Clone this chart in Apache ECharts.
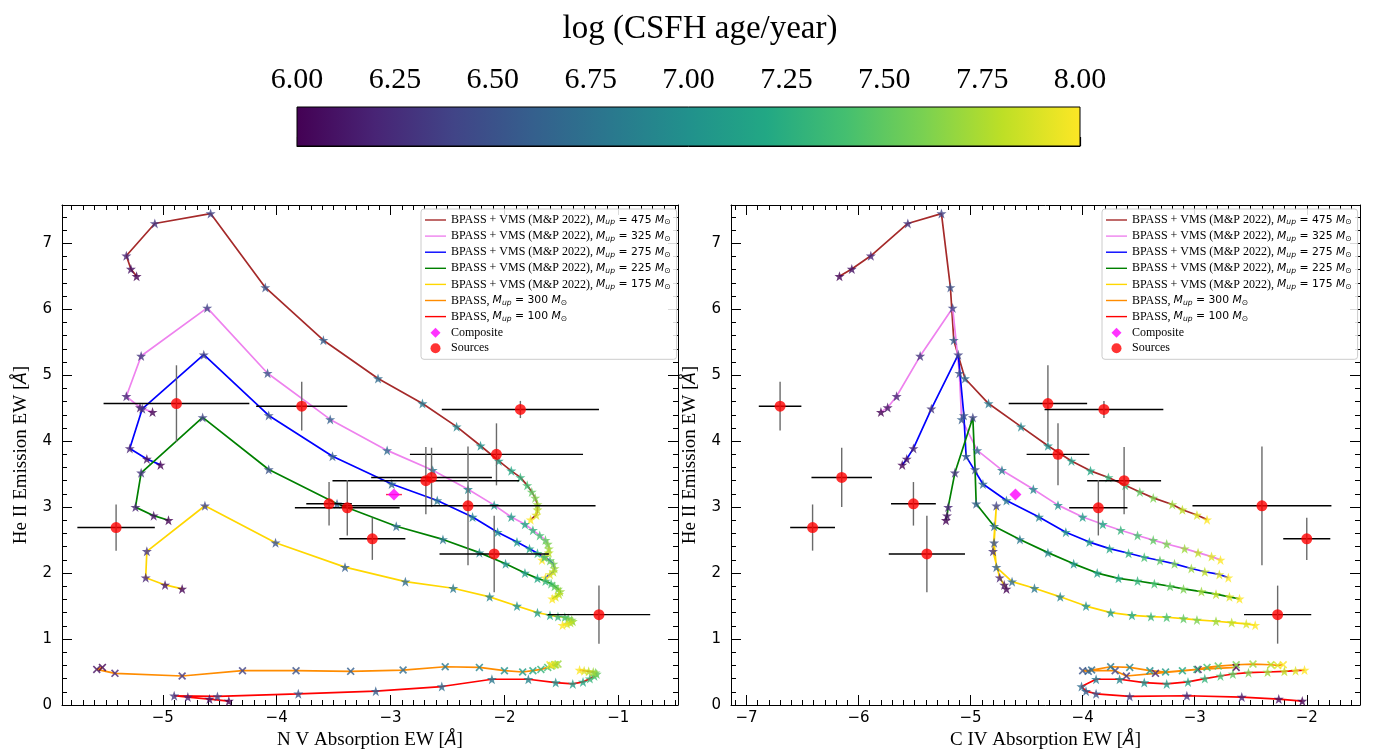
<!DOCTYPE html>
<html><head><meta charset="utf-8">
<script src="https://cdn.jsdelivr.net/npm/echarts@6/dist/echarts.min.js"></script>
<style>html,body{margin:0;padding:0;background:#fff}#c{width:1373px;height:749px}</style>
</head><body><div id="c"></div><script>
// ---------------- data ----------------
const ages = [6.0,6.1,6.2,6.3,6.4,6.5,6.6,6.7,6.8,6.9,7.0,7.1,7.2,7.3,7.4,7.5,7.6,7.7,7.8,7.9,8.0];

const vms475_heII = [6.50,6.61,6.81,7.30,7.45,6.33,5.53,4.95,4.57,4.22,3.93,3.70,3.55,3.45,3.33,3.23,3.14,3.04,2.96,2.88,2.81];
const vms475_nv   = [-5.23,-5.28,-5.32,-5.07,-4.58,-4.10,-3.59,-3.11,-2.72,-2.42,-2.21,-2.05,-1.94,-1.86,-1.80,-1.76,-1.73,-1.71,-1.71,-1.72,-1.77];
const vms475_civ  = [-6.17,-6.06,-5.89,-5.56,-5.26,-5.18,-5.15,-5.05,-4.84,-4.55,-4.31,-4.10,-3.93,-3.77,-3.62,-3.49,-3.37,-3.20,-3.11,-2.98,-2.89];

const vms325_heII = [4.44,4.51,4.68,5.29,6.02,5.03,4.33,3.86,3.56,3.27,3.03,2.85,2.74,2.65,2.57,2.50,2.44,2.37,2.31,2.25,2.20];
const vms325_nv   = [-5.09,-5.20,-5.32,-5.19,-4.61,-4.08,-3.53,-3.03,-2.63,-2.32,-2.09,-1.94,-1.82,-1.75,-1.69,-1.64,-1.62,-1.61,-1.61,-1.64,-1.67];
const vms325_civ  = [-5.80,-5.74,-5.66,-5.45,-5.16,-5.10,-5.08,-4.94,-4.72,-4.44,-4.22,-4.00,-3.82,-3.66,-3.51,-3.37,-3.25,-3.09,-2.97,-2.85,-2.77];

const vms275_heII = [3.64,3.73,3.89,4.49,5.31,4.39,3.77,3.35,3.10,2.85,2.62,2.47,2.37,2.30,2.24,2.19,2.14,2.07,2.02,1.98,1.93];
const vms275_nv   = [-5.02,-5.14,-5.29,-5.18,-4.64,-4.07,-3.51,-2.99,-2.59,-2.28,-2.06,-1.89,-1.78,-1.71,-1.65,-1.60,-1.57,-1.56,-1.57,-1.60,-1.64];
const vms275_civ  = [-5.61,-5.57,-5.51,-5.35,-5.11,-5.06,-5.04,-4.89,-4.68,-4.39,-4.15,-3.94,-3.76,-3.59,-3.45,-3.31,-3.18,-3.03,-2.91,-2.78,-2.70];

const vms225_heII = [2.80,2.87,3.00,3.52,4.36,3.57,3.05,2.71,2.51,2.31,2.14,2.00,1.92,1.88,1.84,1.80,1.76,1.72,1.68,1.64,1.61];
const vms225_nv   = [-4.95,-5.08,-5.24,-5.19,-4.65,-4.07,-3.47,-2.95,-2.54,-2.22,-1.99,-1.82,-1.71,-1.64,-1.59,-1.56,-1.53,-1.51,-1.52,-1.55,-1.58];
const vms225_civ  = [-5.22,-5.21,-5.20,-5.14,-4.98,-4.96,-4.95,-4.79,-4.56,-4.31,-4.08,-3.87,-3.68,-3.51,-3.36,-3.22,-3.10,-2.94,-2.81,-2.69,-2.60];

const vms175_heII = [1.76,1.82,1.93,2.33,3.02,2.46,2.09,1.87,1.77,1.64,1.50,1.40,1.36,1.34,1.33,1.31,1.29,1.27,1.25,1.23,1.21];
const vms175_nv   = [-4.83,-4.98,-5.15,-5.14,-4.63,-4.01,-3.40,-2.87,-2.45,-2.13,-1.89,-1.71,-1.60,-1.53,-1.47,-1.44,-1.41,-1.40,-1.42,-1.45,-1.49];
const vms175_civ  = [-4.68,-4.70,-4.74,-4.80,-4.77,-4.79,-4.77,-4.63,-4.43,-4.20,-3.97,-3.75,-3.56,-3.39,-3.25,-3.10,-2.98,-2.81,-2.67,-2.54,-2.46];

const bp300_heII = [0.57,0.54,0.48,0.44,0.52,0.52,0.51,0.53,0.58,0.57,0.52,0.50,0.52,0.54,0.57,0.59,0.61,0.62,0.61,0.60,0.61];
const bp300_nv   = [-5.53,-5.58,-5.42,-4.83,-4.30,-3.83,-3.35,-2.89,-2.52,-2.22,-2.00,-1.84,-1.75,-1.68,-1.62,-1.59,-1.56,-1.53,-1.55,-1.58,-1.60];
const bp300_civ  = [-2.63,-2.97,-3.35,-3.61,-3.71,-4.00,-3.95,-3.92,-3.75,-3.58,-3.40,-3.26,-3.11,-2.98,-2.89,-2.79,-2.63,-2.48,-2.32,-2.26,-2.21];

const bp100_heII = [0.06,0.09,0.12,0.14,0.13,0.17,0.21,0.28,0.39,0.39,0.34,0.32,0.35,0.40,0.44,0.47,0.49,0.50,0.51,0.52,0.53];
const bp100_nv   = [-4.42,-4.59,-4.78,-4.90,-4.52,-3.81,-3.13,-2.55,-2.11,-1.79,-1.55,-1.40,-1.31,-1.25,-1.21,-1.19,-1.20,-1.22,-1.26,-1.30,-1.34];
const bp100_civ  = [-2.04,-2.25,-2.58,-3.07,-3.58,-3.88,-3.97,-4.01,-3.88,-3.67,-3.45,-3.25,-3.06,-2.91,-2.77,-2.66,-2.52,-2.35,-2.20,-2.10,-2.02];

const src_heII     = [2.69,4.57,4.53,4.48,3.80,3.40,3.45,3.02,3.05,2.99,2.52,2.29,1.37];
const src_heII_err = [0.35,0.58,0.37,0.13,0.47,0.51,0.45,0.90,0.33,0.42,0.32,0.58,0.44];
const src_nv       = [-5.41,-4.88,-3.78,-1.86,-2.07,-2.69,-2.64,-2.32,-3.54,-3.38,-3.16,-2.09,-1.17];
const src_nv_err   = [0.34,0.64,0.40,0.69,0.76,0.82,0.53,1.12,0.20,0.46,0.29,0.48,0.45];
const src_civ      = [-6.41,-4.31,-6.70,-3.81,-4.22,-3.63,-6.15,-2.40,-5.51,-3.86,-2.00,-5.39,-2.26];
const src_civ_err  = [0.20,0.35,0.19,0.53,0.28,0.33,0.27,0.62,0.20,0.26,0.21,0.34,0.30];

const comp_heII = [3.19];
const comp_heII_err = [0.0];
const comp_nv = [-2.97];
const comp_nv_err = [0.07];
const comp_civ = [-4.60];
const comp_civ_err = [0.0];

const cbRange = [6, 8];

// ---------------- styling ----------------
const STAR = 'path://M50,0 L61.8,35.1 L98.8,35.1 L68.8,57 L80.3,92.7 L50,70.9 L19.7,92.7 L31.2,57 L1.2,35.1 L38.2,35.1 Z';
const CROSS = 'path://M0,1.5 L1.5,0 L5,3.5 L8.5,0 L10,1.5 L6.5,5 L10,8.5 L8.5,10 L5,6.5 L1.5,10 L0,8.5 L3.5,5 Z';
const LINEICON = 'path://M0,0 L30,0 L30,2 L0,2 Z';
const viridis = ['#440154','#482475','#414487','#355f8d','#2a788e','#21918c','#22a884','#44bf70','#7ad151','#bddf26','#fde725'];

const models = [
  {key:'vms475', pre:'BPASS + VMS (M&P 2022), ', mup:'475', color:'#a52a2a', sym:STAR, y:vms475_heII, nv:vms475_nv, civ:vms475_civ},
  {key:'vms325', pre:'BPASS + VMS (M&P 2022), ', mup:'325', color:'#ee82ee', sym:STAR, y:vms325_heII, nv:vms325_nv, civ:vms325_civ},
  {key:'vms275', pre:'BPASS + VMS (M&P 2022), ', mup:'275', color:'#0000ff', sym:STAR, y:vms275_heII, nv:vms275_nv, civ:vms275_civ},
  {key:'vms225', pre:'BPASS + VMS (M&P 2022), ', mup:'225', color:'#008000', sym:STAR, y:vms225_heII, nv:vms225_nv, civ:vms225_civ},
  {key:'vms175', pre:'BPASS + VMS (M&P 2022), ', mup:'175', color:'#ffd700', sym:STAR, y:vms175_heII, nv:vms175_nv, civ:vms175_civ},
  {key:'bp300',  pre:'BPASS, ', mup:'300', color:'#ff8c00', sym:CROSS, y:bp300_heII, nv:bp300_nv, civ:bp300_civ},
  {key:'bp100',  pre:'BPASS, ', mup:'100', color:'#ff0000', sym:STAR, y:bp100_heII, nv:bp100_nv, civ:bp100_civ}
];

const legendText = {};
models.forEach(m => {
  legendText[m.key] = '{t|' + m.pre + '}{mi|M}{sb|up}{mu| = ' + m.mup + ' }{mi|M}{sb|⊙}';
});
legendText['Composite'] = '{t|Composite}';
legendText['Sources'] = '{t|Sources}';

const legendData = models.map(m => ({name: m.key, icon: LINEICON}))
  .concat([{name:'Composite', icon:'path://M5,0 L10,5 L5,10 L0,5 Z'}, {name:'Sources', icon:'circle'}]);

function errRender(hcol, vcol) {
  return function (params, api) {
    const x = api.value(0), y = api.value(1), xe = api.value(2), ye = api.value(3);
    const ch = [];
    if (xe > 0) {
      const a = api.coord([x - xe, y]), b = api.coord([x + xe, y]);
      ch.push({type:'line', shape:{x1:a[0], y1:a[1], x2:b[0], y2:b[1]}, style:{stroke:hcol, lineWidth:1.4}});
    }
    if (ye > 0) {
      const a = api.coord([x, y + ye]), b = api.coord([x, y - ye]);
      ch.push({type:'line', shape:{x1:a[0], y1:a[1], x2:b[0], y2:b[1]}, style:{stroke:vcol, lineWidth:1.4}});
    }
    return {type:'group', children:ch};
  };
}

const series = [];
const scatterIdx = [];
[0, 1].forEach(p => {
  const xa = p * 2, ya = p * 2;
  models.forEach(m => {
    const xs = p === 0 ? m.nv : m.civ;
    series.push({type:'line', name:m.key, xAxisIndex:xa, yAxisIndex:ya,
      data: xs.map((x, i) => [x, m.y[i]]), symbol:'none', color:m.color,
      lineStyle:{color:m.color, width:1.7}, z:2, silent:true});
  });
  models.forEach(m => {
    const xs = p === 0 ? m.nv : m.civ;
    scatterIdx.push(series.length);
    series.push({type:'scatter', name:m.key + '_pts', xAxisIndex:xa, yAxisIndex:ya,
      data: xs.map((x, i) => [x, m.y[i], ages[i]]), symbol:m.sym,
      symbolSize: m.sym === STAR ? 10 : 8, z:3, silent:true});
  });
  const sx = p === 0 ? src_nv : src_civ, sxe = p === 0 ? src_nv_err : src_civ_err;
  series.push({type:'custom', name:'src_err', xAxisIndex:xa, yAxisIndex:ya, z:4, silent:true,
    data: sx.map((x, i) => [x, src_heII[i], sxe[i], src_heII_err[i]]),
    renderItem: errRender('#000000', '#6a6a6a')});
  series.push({type:'scatter', name:'Sources', xAxisIndex:xa, yAxisIndex:ya, z:5, silent:true,
    data: sx.map((x, i) => [x, src_heII[i]]), symbol:'circle', symbolSize:11,
    itemStyle:{color:'#ff0000'}});
  const cx = p === 0 ? comp_nv : comp_civ, cxe = p === 0 ? comp_nv_err : comp_civ_err;
  series.push({type:'custom', name:'comp_err', xAxisIndex:xa, yAxisIndex:ya, z:5, silent:true,
    data: cx.map((x, i) => [x, comp_heII[i], cxe[i], comp_heII_err[i]]),
    renderItem: errRender('#ff2a55', '#ff2a55')});
  series.push({type:'scatter', name:'Composite', xAxisIndex:xa, yAxisIndex:ya, z:6, silent:true,
    data: cx.map((x, i) => [x, comp_heII[i]]), symbol:'diamond', symbolSize:12,
    itemStyle:{color:'#ff00ff'}});
});

// colorbar
series.push({type:'custom', name:'colorbar', xAxisIndex:4, yAxisIndex:4, silent:true,
  data:[[cbRange[0], cbRange[1]]],
  renderItem: function (params, api) {
    const a = api.coord([api.value(0), 1]), b = api.coord([api.value(1), 0]);
    return {type:'rect', shape:{x:a[0], y:a[1], width:b[0]-a[0], height:b[1]-a[1]},
      style:{fill: new echarts.graphic.LinearGradient(0, 0, 1, 0,
        viridis.map((c, i) => ({offset: i / (viridis.length - 1), color: c}))),
        stroke:'#000', lineWidth:1}};
  }});

const minus = v => {
  if (Math.abs(v - Math.round(v)) > 1e-6) return '';
  const r = Math.round(v);
  return r < 0 ? '\u2212' + Math.abs(r) : String(r);
};
const tickLbl = {fontFamily:'DejaVu Sans', fontSize:15, color:'#000'};
const nameStyle = {fontFamily:'Liberation Serif', fontSize:19, color:'#000',
  rich:{i:{fontFamily:'DejaVu Sans', fontStyle:'italic', fontSize:17, color:'#000'}}};

function xAx(grid, min, max, top, name) {
  return {type:'value', gridIndex:grid, min:min, max:max, minInterval:1, maxInterval:1,
    position: top ? 'top' : 'bottom', splitLine:{show:false},
    axisLine:{show:true, onZero:false, lineStyle:{color:'#000', width:1}},
    axisTick:{show:true, inside:true, length:10, lineStyle:{color:'#000', width:1}},
    minorTick:{show:true, splitNumber:10, length:5, lineStyle:{color:'#000', width:1}},
    axisLabel:{show:!top, formatter:minus, margin:6, ...tickLbl},
    name: top ? '' : name, nameLocation:'middle', nameGap:25, nameTextStyle:nameStyle};
}
function yAx(grid, right, name) {
  return {type:'value', gridIndex:grid, min:0, max:7.58, interval:1,
    position: right ? 'right' : 'left', splitLine:{show:false},
    axisLine:{show:true, onZero:false, lineStyle:{color:'#000', width:1}},
    axisTick:{show:true, inside:true, length:10, lineStyle:{color:'#000', width:1}},
    minorTick:{show:true, splitNumber:5, length:5, lineStyle:{color:'#000', width:1}},
    axisLabel:{show:!right, formatter:minus, margin:10, ...tickLbl},
    name: right ? '' : name, nameLocation:'middle', nameGap:31, nameTextStyle:nameStyle};
}

const legendRich = {
  t:{fontFamily:'Liberation Serif', fontSize:12, color:'#000', lineHeight:13},
  mi:{fontFamily:'DejaVu Sans', fontStyle:'italic', fontSize:10.8, color:'#000', lineHeight:13},
  mu:{fontFamily:'DejaVu Sans', fontSize:10.8, color:'#000', lineHeight:13},
  sb:{fontFamily:'DejaVu Sans', fontStyle:'italic', fontSize:7.6, color:'#000', lineHeight:7, verticalAlign:'bottom'}
};

const option = {
  animation:false,
  backgroundColor:'#fff',
  graphic:[{type:'text', x:700, y:29, style:{text:'log (CSFH age/year)', font:'33px "Liberation Serif"',
    fill:'#000', textAlign:'center', textVerticalAlign:'middle'}}],
  grid:[
    {left:62, top:205, width:616, height:500, outerBoundsMode:'none', containLabel:false},
    {left:731, top:205, width:629, height:500, outerBoundsMode:'none', containLabel:false},
    {left:297, top:107, width:783, height:39, outerBoundsMode:'none', containLabel:false}
  ],
  xAxis:[
    xAx(0, -5.885, -0.476, false, 'N V Absorption EW [{i|Å}]'),
    xAx(0, -5.885, -0.476, true, ''),
    xAx(1, -7.138, -1.525, false, 'C IV Absorption EW [{i|Å}]'),
    xAx(1, -7.138, -1.525, true, ''),
    {type:'value', gridIndex:2, min:cbRange[0], max:cbRange[1], interval:0.25, position:'top',
      splitLine:{show:false}, axisLine:{show:true, lineStyle:{color:'#000', width:1}},
      axisTick:{show:true, inside:false, length:9, lineStyle:{color:'#000', width:1.2}},
      axisLabel:{formatter:v => v.toFixed(2), margin:12, fontFamily:'Liberation Serif', fontSize:30, color:'#000'}}
  ],
  yAxis:[
    yAx(0, false, 'He II Emission EW [{i|Å}]'),
    yAx(0, true, ''),
    yAx(1, false, 'He II Emission EW [{i|Å}]'),
    yAx(1, true, ''),
    {type:'value', gridIndex:2, min:0, max:1, show:false}
  ],
  visualMap:[{type:'continuous', show:false, min:cbRange[0], max:cbRange[1], dimension:2,
    seriesIndex:scatterIdx, inRange:{color:viridis}}],
  legend:[0, 1].map(p => ({
    show:true, orient:'vertical', left: p ? 1102 : 421, top:209, data:legendData,
    selectedMode:false, itemWidth:21, itemHeight:10, itemGap:3.6, padding:[5, 6, 5, 4],
    backgroundColor:'rgba(255,255,255,0.85)', borderColor:'#cccccc', borderWidth:1, borderRadius:3,
    formatter: n => legendText[n], textStyle:{rich:legendRich, fontSize:11, color:'#000'}
  })),
  series:series
};

const chart = echarts.init(document.getElementById('c'));
chart.setOption(option);
</script></body></html>
